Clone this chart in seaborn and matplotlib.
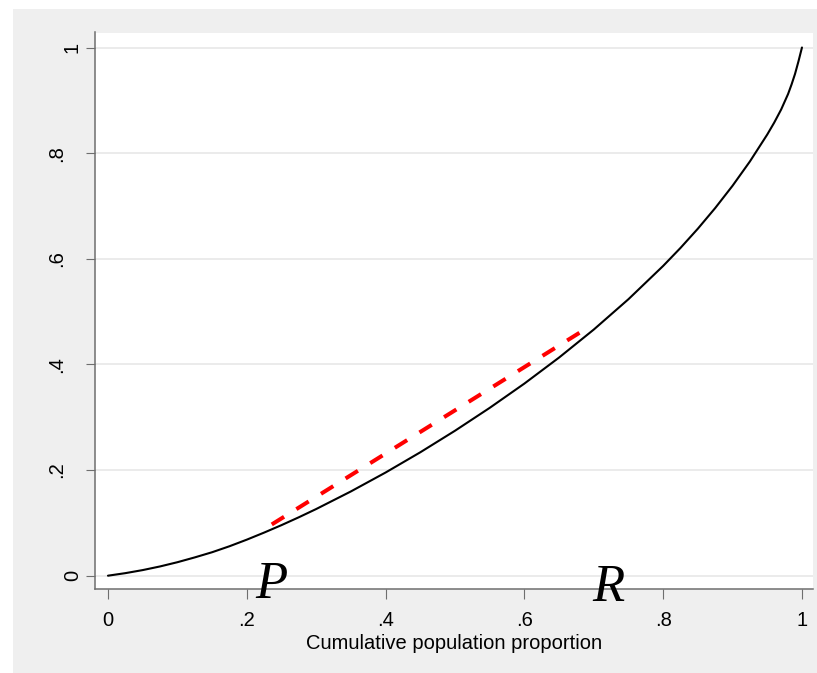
import matplotlib
matplotlib.use("Agg")
import matplotlib.pyplot as plt
from matplotlib.patches import Rectangle
import seaborn as sns
import pandas as pd

# Lorenz curve: cumulative population share vs cumulative income share
pop_share = [0.0, 0.025, 0.05, 0.075, 0.1, 0.125, 0.15, 0.175, 0.2, 0.225,
             0.25, 0.275, 0.3, 0.35, 0.4, 0.45, 0.5, 0.55, 0.6, 0.65,
             0.7, 0.75, 0.8, 0.825, 0.85, 0.875, 0.9, 0.925, 0.95, 0.96,
             0.97, 0.98, 0.985, 0.99, 0.995, 1.0]
income_share = [0.0, 0.0048, 0.0106, 0.0175, 0.0255, 0.0346, 0.0444, 0.0557, 0.0682, 0.0816,
                0.0957, 0.1106, 0.1262, 0.1595, 0.1953, 0.2336, 0.2744, 0.3177, 0.3637, 0.4130,
                0.4660, 0.5235, 0.5865, 0.6206, 0.6570, 0.6961, 0.7383, 0.7843, 0.8353, 0.8578,
                0.8826, 0.912, 0.930, 0.950, 0.974, 1.0]

# chord between the two points P and R
chord_x = [0.236, 0.682]
chord_y = [0.097, 0.462]

tick_vals = [0, 0.2, 0.4, 0.6, 0.8, 1.0]
tick_labels = ["0", ".2", ".4", ".6", ".8", "1"]
x_title = "Cumulative population proportion"
point_labels = ["P", "R"]
point_label_x = [0.235, 0.7205]
point_label_y = [-0.043, -0.047]

sns.set_theme(style="white")
plt.rcParams["font.family"] = ["Liberation Sans", "DejaVu Sans"]

W, H = 817, 673
fig = plt.figure(figsize=(W / 100, H / 100), dpi=100, facecolor="white")
fig.patches.append(Rectangle((13 / W, 0), 1 - 13 / W, (H - 9) / H,
                             transform=fig.transFigure, facecolor="#efefef",
                             edgecolor="none", zorder=-5))

ax = fig.add_axes([95 / W, (H - 589) / H, (813 - 95) / W, (589 - 32.5) / H])
ax.set_facecolor("white")

curve = pd.DataFrame({"p": pop_share, "L": income_share})
sns.lineplot(data=curve, x="p", y="L", ax=ax, color="black", linewidth=1.5,
             estimator=None, sort=False, zorder=3)
chord = pd.DataFrame({"p": chord_x, "L": chord_y})
sns.lineplot(data=chord, x="p", y="L", ax=ax, color="#ff0000", linewidth=2.9,
             linestyle=(0, (3.6, 3.6)), estimator=None, sort=False, zorder=4)

ax.set_xlim(-0.0187, 1.0159)
ax.set_ylim(-0.0252, 1.0284)

ax.set_xticks(tick_vals, labels=tick_labels)
ax.set_yticks(tick_vals, labels=tick_labels)
ax.yaxis.grid(True, color="#e6e6e6", linewidth=1.1)
ax.xaxis.grid(False)
ax.set_axisbelow(True)

for s in ["top", "right"]:
    ax.spines[s].set_visible(False)
for s in ["left", "bottom"]:
    ax.spines[s].set_color("#6e6e6e")
    ax.spines[s].set_linewidth(1.1)

ax.tick_params(axis="x", direction="out", length=7.2, width=0.8, color="#6e6e6e",
               labelsize=14.5, labelcolor="black", pad=8.5, bottom=True)
ax.tick_params(axis="y", direction="out", length=6.5, width=0.8, color="#6e6e6e",
               labelsize=14.5, labelcolor="black", labelrotation=90, left=True)
for lab in ax.get_yticklabels():
    lab.set_verticalalignment("center")
    lab.set_horizontalalignment("right")
for tick, lab in zip(ax.yaxis.get_major_ticks(), tick_labels):
    tick.set_pad(3.0 if not lab.startswith(".") else 14.5)

ax.set_xlabel(x_title, fontsize=14.5, color="black", labelpad=3)
ax.set_ylabel("")

for txt, px, py in zip(point_labels, point_label_x, point_label_y):
    ax.text(px, py, txt, ha="center", va="baseline", fontsize=38,
            family=["Liberation Serif"], fontstyle="italic", color="black",
            clip_on=False, zorder=6)

fig.savefig("out.png", dpi=100, facecolor=fig.get_facecolor())
